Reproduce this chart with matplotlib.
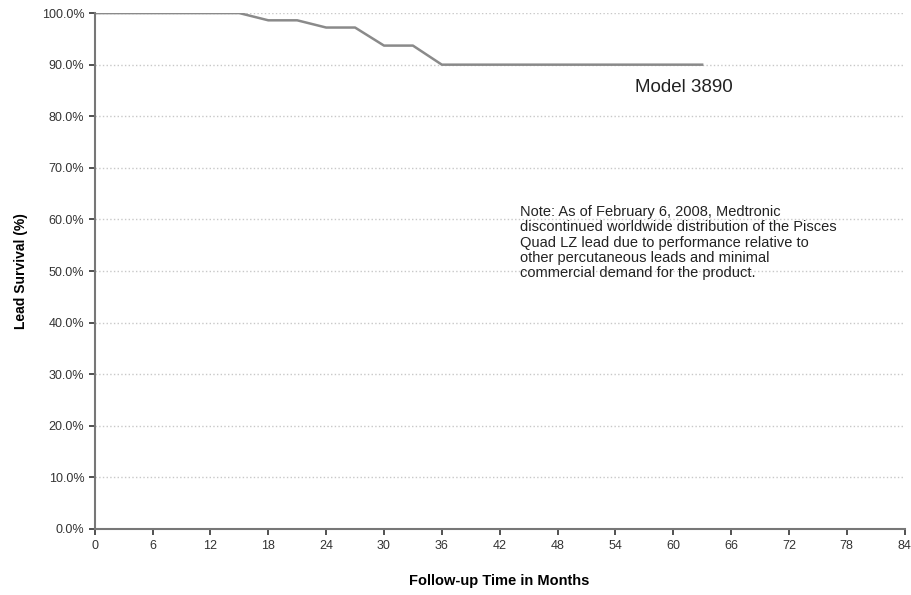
import numpy as np
import matplotlib.pyplot as plt
from matplotlib.ticker import FuncFormatter

# Survival curve
months = [0, 15, 18, 21, 24, 27, 30, 33, 36, 63]
survival = [100.0, 100.0, 98.6, 98.6, 97.2, 97.2, 93.7, 93.7, 90.0, 90.0]
x_ticks = list(range(0, 85, 6))
y_ticks = list(range(0, 101, 10))

note = ("Note: As of February 6, 2008, Medtronic\n"
        "discontinued worldwide distribution of the Pisces\n"
        "Quad LZ lead due to performance relative to\n"
        "other percutaneous leads and minimal\n"
        "commercial demand for the product.")

plt.rcParams['font.family'] = ['Liberation Sans', 'DejaVu Sans']

fig = plt.figure(figsize=(9.11, 5.95), dpi=100)
ax = fig.add_axes([0.104, 0.111, 0.889, 0.867])

ax.plot(months, survival, color='#8a8a8a', lw=1.8)

ax.set_xlim(0, 84)
ax.set_ylim(0, 100)
ax.set_xticks(x_ticks)
ax.set_yticks(y_ticks)
ax.yaxis.set_major_formatter(FuncFormatter(lambda v, p: f"{v:.1f}%"))
ax.tick_params(labelsize=9, colors='#333333', length=4, width=1.2)
ax.tick_params(axis='x', pad=4)

ax.grid(axis='y', color='#c8c8c8', linestyle=':', lw=1)
ax.set_axisbelow(True)
for s in ['top', 'right']:
    ax.spines[s].set_visible(False)
for s in ['left', 'bottom']:
    ax.spines[s].set_color('#777777')
    ax.spines[s].set_linewidth(1.5)

ax.set_xlabel("Follow-up Time in Months", fontsize=10.5, fontweight='bold', labelpad=16)
ax.set_ylabel("Lead Survival (%)", fontsize=10, fontweight='bold', labelpad=10)

ax.text(56.0, 85.6, "Model 3890", fontsize=13.5, va='center', color='#222222')
ax.text(44.1, 62.8, note, fontsize=10.5, va='top', ha='left', color='#222222', linespacing=1.12)

plt.savefig("out.png", dpi=100)
